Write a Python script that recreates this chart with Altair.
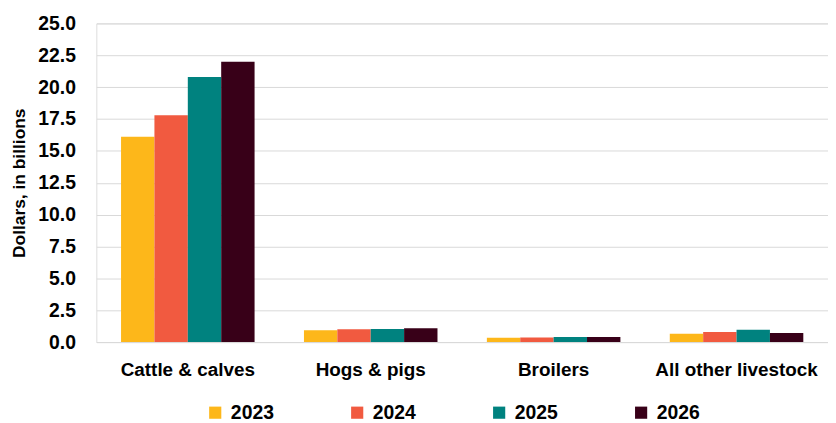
import altair as alt
import pandas as pd

categories = ["Cattle & calves", "Hogs & pigs", "Broilers", "All other livestock"]
years = ["2023", "2024", "2025", "2026"]
v2023 = [16.1, 0.93, 0.33, 0.65]
v2024 = [17.8, 1.00, 0.35, 0.80]
v2025 = [20.8, 1.02, 0.39, 0.96]
v2026 = [22.0, 1.09, 0.39, 0.72]
colors = ["#FDB71A", "#F15A40", "#00827F", "#380018"]

rows = []
for yr, vals in zip(years, [v2023, v2024, v2025, v2026]):
    for c, v in zip(categories, vals):
        rows.append({"category": c, "year": yr, "value": v})
df = pd.DataFrame(rows)

font = "Liberation Sans"

chart = alt.Chart(df).mark_bar().encode(
    x=alt.X("category:N", sort=categories, title=None,
            scale=alt.Scale(paddingInner=0.27, paddingOuter=0.135),
            axis=alt.Axis(labelAngle=0, labelFontSize=19, labelFontWeight="bold",
                          labelColor="#000000", labelFont=font, ticks=False,
                          domainColor="#d9d9d9", labelPadding=19)),
    xOffset=alt.XOffset("year:N", sort=years),
    y=alt.Y("value:Q", title="Dollars, in billions",
            scale=alt.Scale(domain=[0, 25]),
            axis=alt.Axis(values=[0, 2.5, 5, 7.5, 10, 12.5, 15, 17.5, 20, 22.5, 25],
                          format=".1f", labelFontSize=19.5, labelFontWeight="bold",
                          labelColor="#000000", labelFont=font, domain=False, ticks=False,
                          gridColor="#d9d9d9", labelPadding=21,
                          titleFontSize=17.5, titleFontWeight="bold", titleFont=font,
                          titleColor="#000000", titlePadding=9)),
    color=alt.Color("year:N", sort=years,
                    scale=alt.Scale(domain=years, range=colors),
                    legend=alt.Legend(title=None, orient="none", direction="horizontal",
                                      legendX=110, legendY=382,
                                      symbolType="square", symbolSize=150,
                                      symbolStrokeWidth=0,
                                      labelFontSize=19.5, labelFontWeight="bold",
                                      labelFont=font, labelColor="#000000",
                                      columnPadding=74, labelOffset=6)),
).properties(width=737, height=321).configure_view(stroke=None).configure(
    padding={"left": 3, "top": 4, "right": 0, "bottom": 0}
)

chart.save("out.html", embed_options={"renderer": "svg", "actions": False})
